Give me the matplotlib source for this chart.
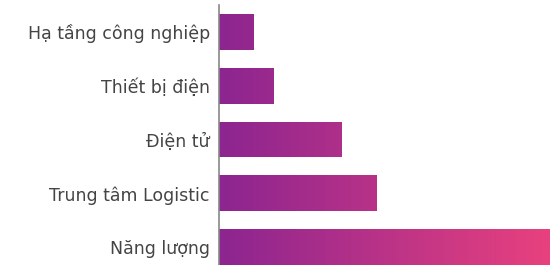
import matplotlib
matplotlib.use("Agg")
import matplotlib.pyplot as plt
import numpy as np
from matplotlib.colors import LinearSegmentedColormap

categories = ["Hạ tầng công nghiệp", "Thiết bị điện", "Điện tử", "Trung tâm Logistic", "Năng lượng"]
values = [35, 55, 123, 158, 331]

plt.rcParams['font.family'] = ['DejaVu Sans']
fig = plt.figure(figsize=(5.5, 2.65), dpi=100)
ax = fig.add_axes([219/550, 0, 1 - 219/550, 1 - 5/265])

cmap = LinearSegmentedColormap.from_list("g", ["#8C2590", "#E8417E"])
xmax = max(values)
y = np.arange(len(categories))
bars = ax.barh(y, values, height=0.667, color="none", edgecolor="none")

grad = np.linspace(0, 1, 512).reshape(1, -1)
for b in bars:
    im = ax.imshow(grad, cmap=cmap, aspect="auto", extent=[0, xmax, len(categories), -1],
                   interpolation="bilinear", zorder=1)
    im.set_clip_path(b)
ax.set_xlim(0, xmax)
ax.set_ylim(len(categories) - 1 + 0.333, -0.5)

ax.set_yticks(y)
ax.set_yticklabels(categories, fontsize=12.5, color="#444444")
ax.tick_params(axis="y", length=0, pad=6.5)
ax.set_xticks([])
for s in ["top", "right", "bottom"]:
    ax.spines[s].set_visible(False)
ax.spines["left"].set_color("#888888")
ax.spines["left"].set_linewidth(1.2)
ax.spines["left"].set_zorder(3)

fig.savefig("out.png", dpi=100)
